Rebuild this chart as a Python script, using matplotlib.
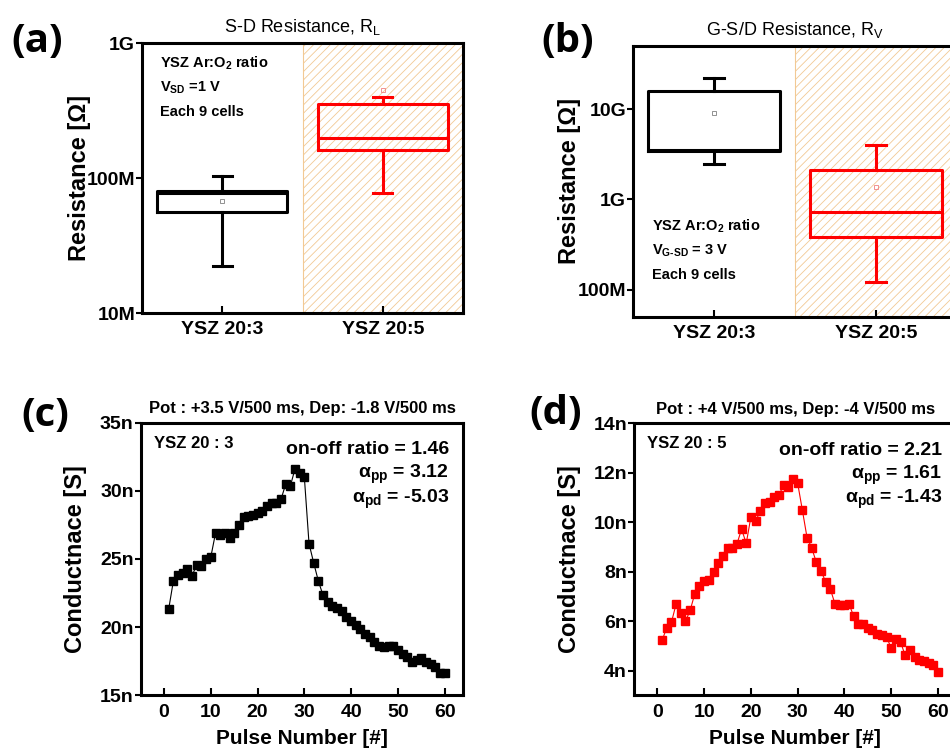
import numpy as np
import matplotlib.pyplot as plt
from matplotlib.ticker import FixedLocator, NullLocator, FuncFormatter

plt.rcParams['font.family'] = ['Liberation Sans', 'DejaVu Sans']
plt.rcParams['mathtext.fontset'] = 'custom'
plt.rcParams['mathtext.rm'] = 'Liberation Sans'
plt.rcParams['mathtext.bf'] = 'Liberation Sans:bold'
plt.rcParams['mathtext.it'] = 'Liberation Sans:italic'
plt.rcParams['mathtext.default'] = 'bf'
plt.rcParams['hatch.linewidth'] = 0.6
plt.rcParams['axes.linewidth'] = 2.2

# ---- box data (ohm): 9 cells per group ----
groups = ['YSZ 20:3', 'YSZ 20:5']
box_colors = ['black', 'red']
mean_colors = ['#808080', '#f08080']

rl_whislo = [22.4e6, 77e6]
rl_q1 = [56e6, 161e6]
rl_med = [78e6, 197e6]
rl_q3 = [80e6, 353e6]
rl_whishi = [104e6, 400e6]
rl_mean = [68e6, 449e6]

rv_whislo = [2.47e9, 120e6]
rv_q1 = [3.4e9, 378e6]
rv_med = [3.55e9, 718e6]
rv_q3 = [16e9, 2.12e9]
rv_whishi = [21.9e9, 4.0e9]
rv_mean = [9.0e9, 1.38e9]

# ---- pulse data (nS) ----
pulse = np.arange(1, 61)
g_203 = [21.35, 23.41, 23.80, 24.00, 24.24, 23.78, 24.59, 24.46, 24.98, 25.15,
         26.89, 26.74, 26.91, 26.54, 26.94, 27.48, 28.09, 28.16, 28.26, 28.34,
         28.53, 28.90, 29.08, 29.08, 29.37, 30.47, 30.35, 31.60, 31.30, 31.00,
         26.13, 24.71, 23.38, 22.33, 21.84, 21.54, 21.40, 21.18, 20.74, 20.42,
         20.13, 19.88, 19.46, 19.26, 18.90, 18.65, 18.53, 18.60, 18.58, 18.34,
         18.04, 17.79, 17.43, 17.60, 17.75, 17.43, 17.31, 17.06, 16.67, 16.62]
g_205 = [5.22, 5.73, 5.95, 6.69, 6.32, 5.99, 6.43, 7.11, 7.42, 7.62,
         7.68, 7.99, 8.35, 8.62, 8.94, 8.96, 9.11, 9.72, 9.14, 10.22,
         10.03, 10.46, 10.76, 10.83, 11.03, 11.10, 11.50, 11.41, 11.75, 11.57,
         10.49, 9.38, 8.96, 8.37, 8.03, 7.58, 7.29, 6.68, 6.64, 6.64,
         6.68, 6.19, 5.87, 5.90, 5.72, 5.62, 5.49, 5.42, 5.35, 4.92,
         5.29, 5.15, 4.61, 4.85, 4.54, 4.43, 4.37, 4.30, 4.24, 3.95]

fig = plt.figure(figsize=(9.5, 7.55), dpi=100)

ax_a = fig.add_axes([0.1495, 0.5854, 0.3379, 0.3576])
ax_b = fig.add_axes([0.6663, 0.5805, 0.3411, 0.3585])
ax_c = fig.add_axes([0.1481, 0.0791, 0.3396, 0.3611])
ax_d = fig.add_axes([0.6674, 0.0791, 0.3396, 0.3603])


def draw_boxes(ax, lo, q1, med, q3, hi, mean):
    for i in range(len(groups)):
        st = [dict(whislo=lo[i], q1=q1[i], med=med[i], q3=q3[i], whishi=hi[i],
                   mean=mean[i], fliers=[], label=groups[i])]
        c = box_colors[i]
        lp = dict(color=c, linewidth=2.2)
        ax.bxp(st, positions=[i + 1], widths=0.81, capwidths=0.12,
               showmeans=True, manage_ticks=False,
               boxprops=lp, whiskerprops=lp, capprops=lp, medianprops=lp,
               meanprops=dict(marker='s', markersize=3, markerfacecolor='none',
                              markeredgecolor=mean_colors[i], markeredgewidth=0.6))
    ax.axvspan(1.5, 2.5, facecolor='white', edgecolor='#f2c994', hatch='////',
               linewidth=0.8, zorder=0)
    ax.set_xlim(0.5, 2.5)
    ax.set_yscale('log')
    ax.set_xticks([1, 2])
    ax.set_xticklabels(groups, fontsize=14, fontweight='bold')
    ax.yaxis.set_minor_locator(NullLocator())
    ax.tick_params(axis='x', direction='in', length=5, width=1.5, pad=6)
    ax.tick_params(axis='y', direction='out', length=4, width=1.5, pad=1,
                   labelsize=14)
    for lab in ax.get_yticklabels():
        lab.set_fontweight('bold')


# (a) S-D resistance
draw_boxes(ax_a, rl_whislo, rl_q1, rl_med, rl_q3, rl_whishi, rl_mean)
ax_a.set_ylim(1e7, 1e9)
ax_a.yaxis.set_major_locator(FixedLocator([1e7, 1e8, 1e9]))
ax_a.set_yticklabels(['10M', '100M', '1G'], fontsize=14, fontweight='bold')
ax_a.set_title('S-D Resistance, R$_{\\mathregular{L}}$', fontsize=13, pad=8)
ax_a.set_ylabel('Resistance [Ω]', fontsize=17, fontweight='bold')
ax_a.yaxis.set_label_coords(-0.16, 0.5)
ax_a.text(0.055, 0.925, 'YSZ Ar:O$_{2}$ ratio', transform=ax_a.transAxes,
          fontsize=10.5, fontweight='bold', va='center')
ax_a.text(0.055, 0.835, 'V$_{SD}$ =1 V', transform=ax_a.transAxes,
          fontsize=10.5, fontweight='bold', va='center')
ax_a.text(0.055, 0.745, 'Each 9 cells', transform=ax_a.transAxes,
          fontsize=10.5, fontweight='bold', va='center')

# (b) G-S/D resistance
draw_boxes(ax_b, rv_whislo, rv_q1, rv_med, rv_q3, rv_whishi, rv_mean)
ax_b.set_ylim(5e7, 5e10)
ax_b.yaxis.set_major_locator(FixedLocator([1e8, 1e9, 1e10]))
ax_b.set_yticklabels(['100M', '1G', '10G'], fontsize=14, fontweight='bold')
ax_b.set_title('G-S/D Resistance, R$_{\\mathregular{V}}$', fontsize=13, pad=8)
ax_b.set_ylabel('Resistance [Ω]', fontsize=17, fontweight='bold')
ax_b.yaxis.set_label_coords(-0.16, 0.5)
ax_b.text(0.06, 0.335, 'YSZ Ar:O$_{2}$ ratio', transform=ax_b.transAxes,
          fontsize=10.5, fontweight='bold', va='center')
ax_b.text(0.06, 0.245, 'V$_{G\u2010SD}$ = 3 V', transform=ax_b.transAxes,
          fontsize=10.5, fontweight='bold', va='center')
ax_b.text(0.06, 0.155, 'Each 9 cells', transform=ax_b.transAxes,
          fontsize=10.5, fontweight='bold', va='center')


def draw_pulse(ax, g, color, ylim, yticks, title, sample, ratio, app, apd, tx):
    ax.plot(pulse, g, '-s', color=color, markersize=5.5, linewidth=0.8)
    ax.set_xlim(-5, 64)
    ax.set_ylim(*ylim)
    ax.set_xticks(np.arange(0, 61, 10))
    ax.set_yticks(yticks)
    ax.yaxis.set_major_formatter(FuncFormatter(lambda v, p: f'{v:.0f}n'))
    ax.tick_params(axis='x', direction='in', length=5, width=1.5, pad=6,
                   labelsize=14)
    ax.tick_params(axis='y', direction='out', length=4, width=1.5, pad=1,
                   labelsize=14)
    for lab in ax.get_xticklabels() + ax.get_yticklabels():
        lab.set_fontweight('bold')
    ax.set_title(title, fontsize=12, fontweight='bold', pad=7)
    ax.set_xlabel('Pulse Number [#]', fontsize=15, fontweight='bold', labelpad=6)
    ax.set_ylabel('Conductnace [S]', fontsize=17, fontweight='bold')
    ax.yaxis.set_label_coords(-0.165, 0.5)
    ax.text(0.04, 0.925, sample, transform=ax.transAxes, fontsize=12,
            fontweight='bold', va='center')
    ax.text(tx, 0.9, f'on-off ratio = {ratio}', transform=ax.transAxes,
            fontsize=14, fontweight='bold', ha='right', va='center')
    ax.text(tx, 0.81, f'α$_{{pp}}$ = {app}', transform=ax.transAxes,
            fontsize=14, fontweight='bold', ha='right', va='center')
    ax.text(tx, 0.72, f'α$_{{pd}}$ = {apd}', transform=ax.transAxes,
            fontsize=14, fontweight='bold', ha='right', va='center')


draw_pulse(ax_c, g_203, 'black', (15, 35), [15, 20, 25, 30, 35],
           'Pot : +3.5 V/500 ms, Dep: -1.8 V/500 ms', 'YSZ 20 : 3',
           '1.46', '3.12', '-5.03', 0.955)
draw_pulse(ax_d, g_205, 'red', (3, 14), [4, 6, 8, 10, 12, 14],
           'Pot : +4 V/500 ms, Dep: -4 V/500 ms', 'YSZ 20 : 5',
           '2.21', '1.61', '-1.43', 0.955)

# panel letters
for lab, x, y in [('(a)', 37, 41), ('(b)', 568, 41), ('(c)', 45, 415), ('(d)', 556, 413)]:
    fig.text(x / 950, 1 - y / 755, lab, fontsize=29, fontweight='bold',
             family=['Open Sans', 'DejaVu Sans'], ha='center', va='center')

fig.savefig('out.png', dpi=100)
